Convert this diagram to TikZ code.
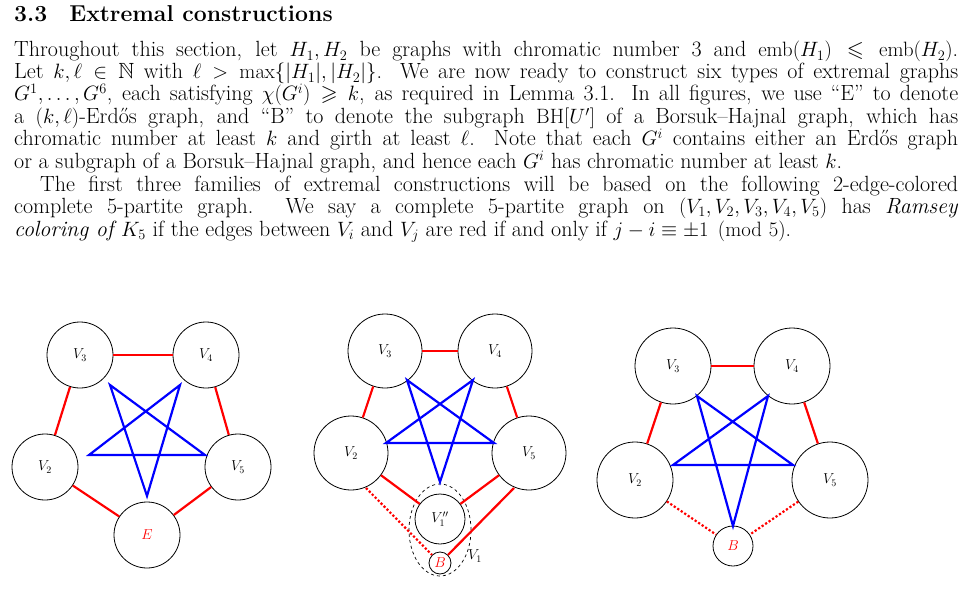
\documentclass[tikz,border=0pt]{standalone}
\usepackage{amsmath,amssymb}
\begin{document}
\begin{tikzpicture}[x=1pt,y=-1pt,
  txt/.style={anchor=base west,inner sep=0pt,font=\fontsize{22}{22.3}\selectfont},
  vx/.style={circle,draw,line width=0.8pt,inner sep=0pt,font=\fontsize{14}{16}\selectfont},
  rd/.style={red,line width=2.2pt},
  rdd/.style={red,line width=2.2pt,dotted},
  bl/.style={blue,line width=2.2pt}]
\useasboundingbox (0,0) rectangle (967,591);
\node[txt,font=\fontsize{23}{26}\selectfont\bfseries] (h) at (14,22) {3.3\hspace{22pt}Extremal constructions};
\def\W{944pt}
\node[txt] (l1) at (14,57) {\makebox[\W][s]{Throughout this section, let $H_1,H_2$ be graphs with chromatic number 3 and $\mathrm{emb}(H_1)\leqslant\mathrm{emb}(H_2)$.}};
\node[txt] (l2) at (14,79) {\makebox[\W][s]{Let $k,\ell\in\mathbb{N}$ with $\ell>\max\{|H_1|,|H_2|\}$. We are now ready to construct six types of extremal graphs}};
\node[txt] (l3) at (14,101) {\makebox[\W][s]{$G^1,\dots,G^6$, each satisfying $\chi(G^i)\geqslant k$, as required in Lemma 3.1. In all figures, we use ``E'' to denote}};
\node[txt] (l4) at (14,124) {\makebox[\W][s]{a $(k,\ell)$-Erd\H{o}s graph, and ``B'' to denote the subgraph $\mathrm{BH}[U']$ of a Borsuk--Hajnal graph, which has}};
\node[txt] (l5) at (14,146) {\makebox[\W][s]{chromatic number at least $k$ and girth at least $\ell$. Note that each $G^i$ contains either an Erd\H{o}s graph}};
\node[txt] (l6) at (14,168) {or a subgraph of a Borsuk--Hajnal graph, and hence each $G^i$ has chromatic number at least $k$.};
\node[txt] (l7) at (40,191) {\makebox[918pt][s]{The first three families of extremal constructions will be based on the following 2-edge-colored}};
\node[txt] (l8) at (14,213) {\makebox[\W][s]{complete 5-partite graph. We say a complete 5-partite graph on $(V_1,V_2,V_3,V_4,V_5)$ has \emph{Ramsey}}};
\node[txt] (l9) at (14,236) {\emph{coloring of $K_5$} if the edges between $V_i$ and $V_j$ are red if and only if $j-i\equiv\pm1 \pmod 5$.};

% Figure 1
\node[vx,minimum size=66pt] (a3) at (80,355) {$V_3$};
\node[vx,minimum size=66pt] (a4) at (206,355) {$V_4$};
\node[vx,minimum size=66pt] (a2) at (45,467) {$V_2$};
\node[vx,minimum size=66pt] (a5) at (238,467) {$V_5$};
\node[vx,minimum size=66pt] (a1) at (147,535) {\textcolor{red}{$E$}};
\draw[rd] (a3)--(a4); \draw[rd] (a3)--(a2); \draw[rd] (a4)--(a5);
\draw[rd] (a2)--(a1); \draw[rd] (a5)--(a1);
\coordinate (a3p) at (110,385); \coordinate (a4p) at (180,385);
\coordinate (a2p) at (89,455); \coordinate (a5p) at (205,455);
\coordinate (a1p) at (147,496);
\draw[bl] (a3p)--(a1p)--(a4p)--(a2p)--(a5p)--cycle;

% Figure 2
\node[vx,minimum size=74pt] (b3) at (385,351) {$V_3$};
\node[vx,minimum size=74pt] (b4) at (495,351) {$V_4$};
\node[vx,minimum size=74pt] (b2) at (351,453) {$V_2$};
\node[vx,minimum size=74pt] (b5) at (529,453) {$V_5$};
\node[vx,minimum size=50pt] (b1) at (440,519) {$V_1''$};
\node[vx,minimum size=22pt] (bb) at (440,563) {\textcolor{red}{$B$}};
\draw[dashed,line width=0.7pt] (440,530) ellipse [x radius=31pt,y radius=46pt];
\node[font=\fontsize{14}{16}\selectfont,anchor=west,inner sep=1pt] (bl1) at (467,556) {$V_1$};
\draw[rd] (b3)--(b4); \draw[rd] (b3)--(b2); \draw[rd] (b4)--(b5);
\draw[rd] (b2)--(b1); \draw[rd] (b5)--(b1);
\draw[rdd] (366,488)--(bb); \draw[rd] (514,488)--(bb);
\coordinate (b3p) at (407,380); \coordinate (b4p) at (473,380);
\coordinate (b2p) at (386,443); \coordinate (b5p) at (494,443);
\coordinate (b1p) at (440,482);
\draw[bl] (b3p)--(b1p)--(b4p)--(b2p)--(b5p)--cycle;

% Figure 3
\node[vx,minimum size=76pt] (c3) at (673,366) {$V_3$};
\node[vx,minimum size=76pt] (c4) at (792,366) {$V_4$};
\node[vx,minimum size=76pt] (c2) at (635,480) {$V_2$};
\node[vx,minimum size=76pt] (c5) at (830,480) {$V_5$};
\node[vx,minimum size=40pt] (cb) at (733,546) {\textcolor{red}{$B$}};
\draw[rd] (c3)--(c4); \draw[rd] (c3)--(c2); \draw[rd] (c4)--(c5);
\draw[rdd] (c2)--(cb); \draw[rdd] (c5)--(cb);
\coordinate (c3p) at (697,396); \coordinate (c4p) at (768,396);
\coordinate (c2p) at (673,465); \coordinate (c5p) at (793,465);
\coordinate (c1p) at (733,526);
\draw[bl] (c3p)--(c1p)--(c4p)--(c2p)--(c5p)--cycle;
\end{tikzpicture}
\end{document}
